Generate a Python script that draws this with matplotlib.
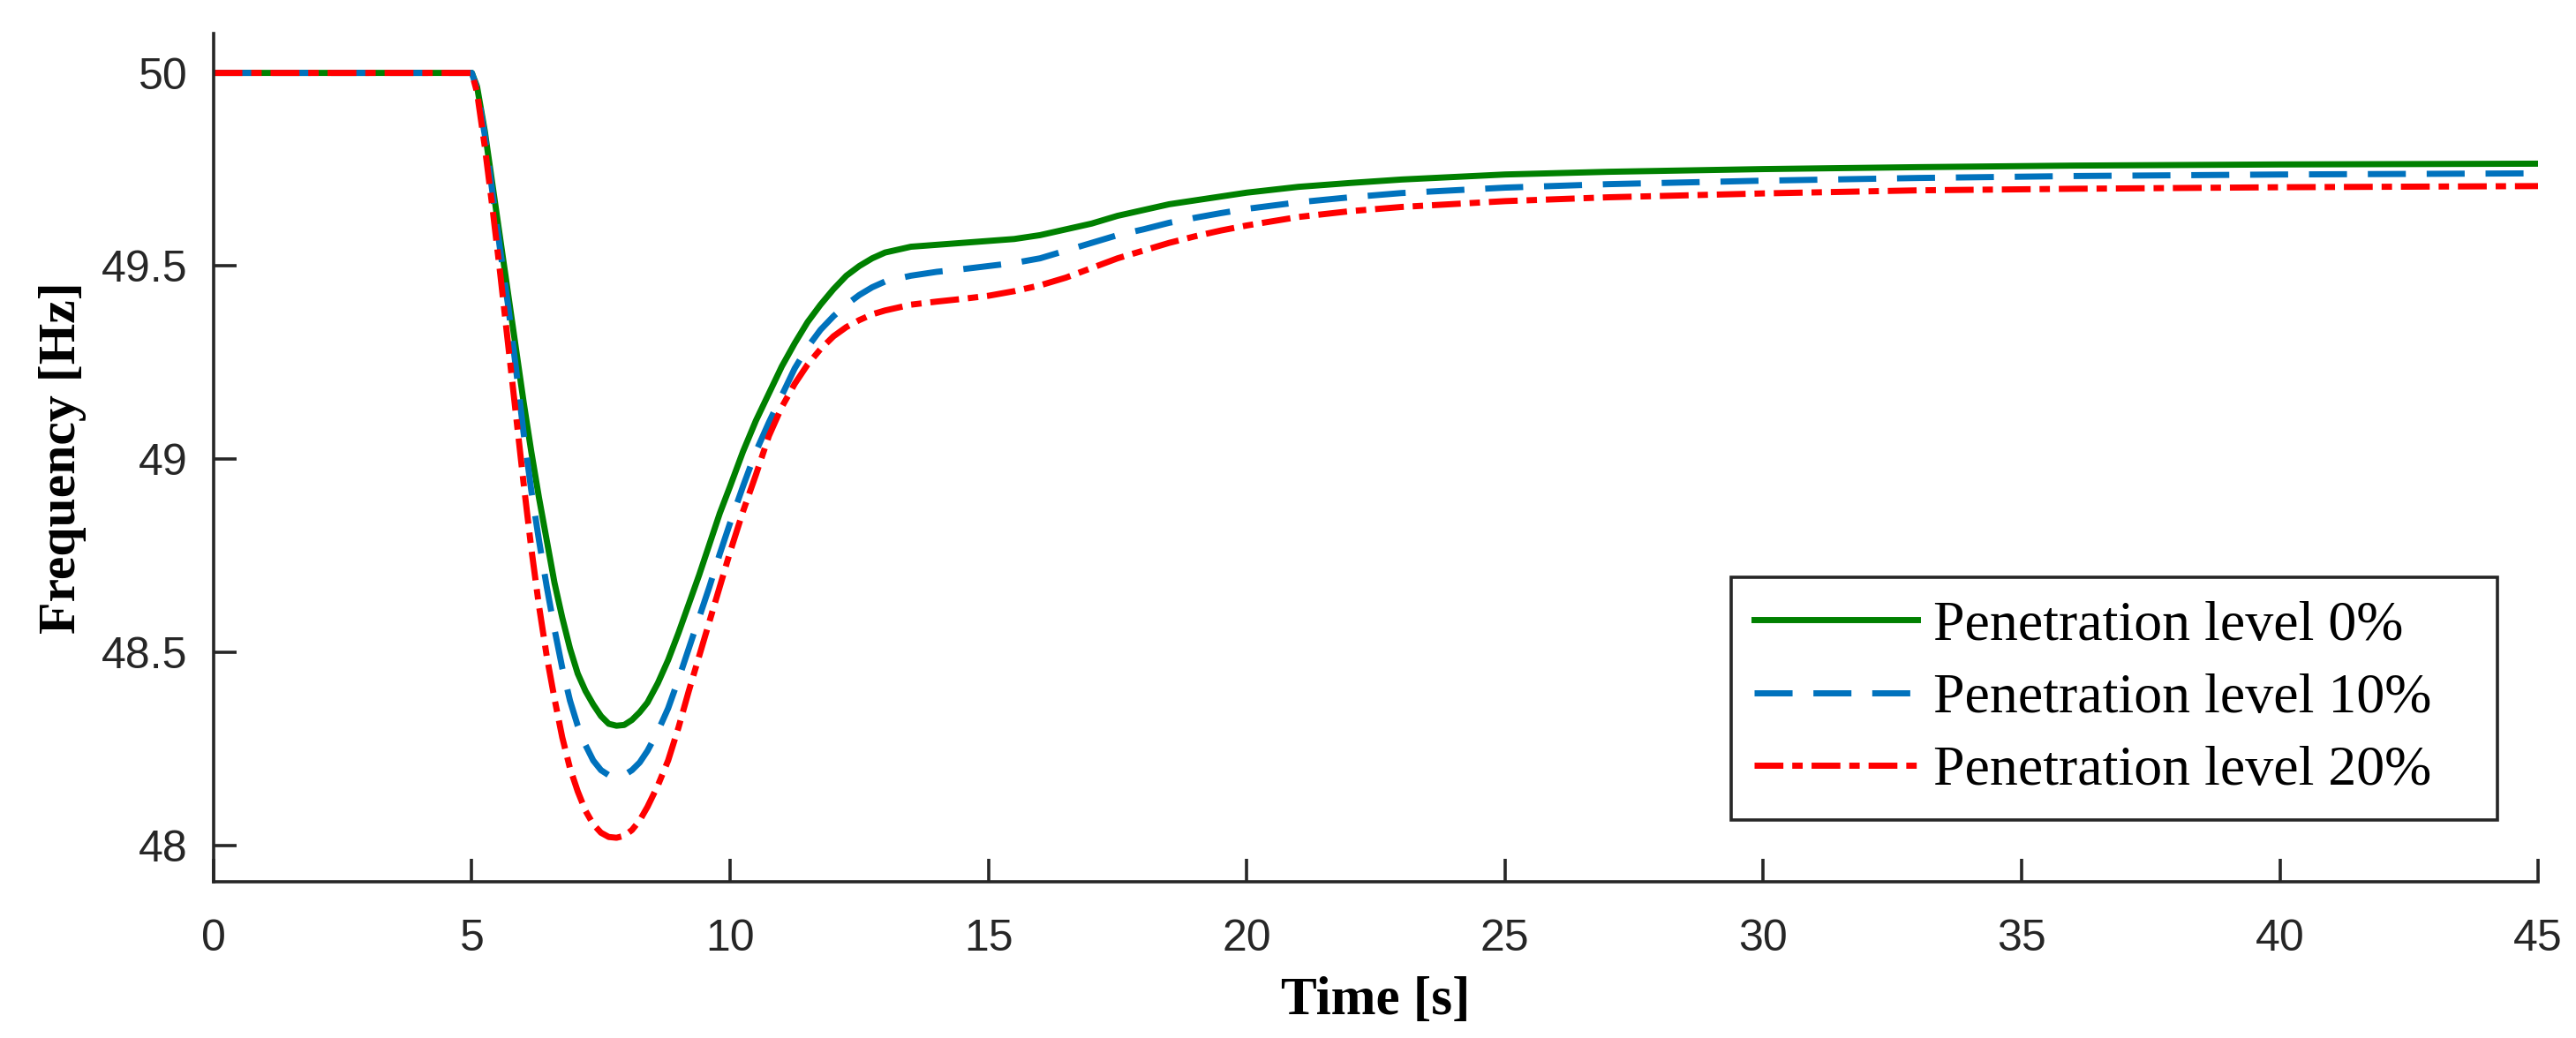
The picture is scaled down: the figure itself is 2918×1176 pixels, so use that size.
import numpy as np
import matplotlib
matplotlib.use("Agg")
import matplotlib.pyplot as plt

# time samples [s]
time = [0, 5, 5.1, 5.25, 5.4, 5.55, 5.7, 5.85, 6.0, 6.15, 6.3, 6.45, 6.6, 6.75,
        6.9, 7.05, 7.2, 7.35, 7.5, 7.65, 7.8, 7.95, 8.1, 8.25, 8.4, 8.6, 8.8,
        9.0, 9.2, 9.4, 9.6, 9.8, 10, 10.25, 10.5, 10.75, 11, 11.25, 11.5, 11.75,
        12, 12.25, 12.5, 12.75, 13, 13.5, 14, 14.5, 15, 15.5, 16, 16.5, 17,
        17.5, 18, 18.5, 19, 19.5, 20, 21, 22, 23, 25, 27, 30, 33, 36, 40, 45]

# frequency [Hz] per penetration level
f_0 = [50, 50, 49.965, 49.85, 49.71, 49.57, 49.43, 49.29, 49.15, 49.02, 48.90,
       48.79, 48.68, 48.59, 48.51, 48.445, 48.40, 48.365, 48.335, 48.315,
       48.31, 48.312, 48.325, 48.345, 48.37, 48.42, 48.48, 48.55, 48.625,
       48.70, 48.78, 48.86, 48.93, 49.02, 49.10, 49.17, 49.24, 49.30, 49.355,
       49.40, 49.44, 49.475, 49.50, 49.52, 49.535, 49.55, 49.555, 49.56,
       49.565, 49.57, 49.58, 49.595, 49.61, 49.63, 49.645, 49.66, 49.67,
       49.68, 49.69, 49.705, 49.715, 49.724, 49.737, 49.744, 49.751, 49.756,
       49.76, 49.763, 49.765]
f_10 = [50, 50, 49.96, 49.84, 49.69, 49.54, 49.40, 49.24, 49.07, 48.92, 48.79,
        48.67, 48.56, 48.46, 48.375, 48.31, 48.26, 48.22, 48.195, 48.182,
        48.178, 48.182, 48.195, 48.215, 48.245, 48.295, 48.355, 48.43, 48.51,
        48.59, 48.67, 48.755, 48.835, 48.93, 49.02, 49.095, 49.165, 49.235,
        49.29, 49.335, 49.37, 49.40, 49.425, 49.445, 49.46, 49.475, 49.485,
        49.492, 49.50, 49.508, 49.52, 49.54, 49.56, 49.58, 49.595, 49.612,
        49.625, 49.637, 49.648, 49.665, 49.678, 49.689, 49.703, 49.712, 49.721,
        49.728, 49.733, 49.737, 49.74]
f_20 = [50, 50, 49.95, 49.81, 49.65, 49.48, 49.30, 49.12, 48.94, 48.77, 48.62,
        48.49, 48.38, 48.28, 48.20, 48.14, 48.09, 48.055, 48.033, 48.022,
        48.02, 48.025, 48.04, 48.065, 48.10, 48.155, 48.22, 48.305, 48.40,
        48.49, 48.58, 48.67, 48.76, 48.865, 48.96, 49.06, 49.135, 49.195,
        49.245, 49.285, 49.318, 49.342, 49.36, 49.375, 49.385, 49.40, 49.408,
        49.415, 49.423, 49.435, 49.45, 49.47, 49.495, 49.52, 49.54, 49.56,
        49.577, 49.592, 49.605, 49.627, 49.642, 49.653, 49.668, 49.678,
        49.688, 49.696, 49.70, 49.704, 49.707]

labels = ["Penetration level 0%", "Penetration level 10%", "Penetration level 20%"]
xticks = [0, 5, 10, 15, 20, 25, 30, 35, 40, 45]
yticks = [48, 48.5, 49, 49.5, 50]

fig = plt.figure(figsize=(29.18, 11.76), dpi=100)
ax = fig.add_axes([0.0829, 0.1505, 0.9024, 0.8176])

lw = 5
ax.plot(time, f_0, color="#008000", lw=lw, label=labels[0])
ax.plot(time, f_10, color="#0072BD", lw=lw, dashes=(6.2, 3.4), label=labels[1])
ax.plot(time, f_20, color="#FF0000", lw=lw, dashes=(4.7, 1.45, 1.7, 1.45), label=labels[2])

ax.set_xlim(0, 45)
ax.set_ylim(47.906, 50.103)
ax.set_xticks(xticks)
ax.set_yticks(yticks)
ax.set_xticklabels([str(v) for v in xticks], family="Liberation Sans")
ax.set_yticklabels([f"{v:g}" for v in yticks], family="Liberation Sans")

for side in ["top", "right"]:
    ax.spines[side].set_visible(False)
for side in ["left", "bottom"]:
    ax.spines[side].set_linewidth(2.6)
    ax.spines[side].set_color("#262626")
ax.tick_params(direction="in", length=19, width=2.6, color="#262626",
               labelsize=36, labelcolor="#262626")
ax.tick_params(axis="x", pad=30)
ax.tick_params(axis="y", pad=21)

ax.set_xlabel("Time [s]", family="Liberation Serif", fontweight="bold",
              fontsize=44, labelpad=14)
ax.set_ylabel("Frequency [Hz]", family="Liberation Serif", fontweight="bold",
              fontsize=43, labelpad=12)

leg = ax.legend(loc="lower left", bbox_to_anchor=(0.653, 0.073, 0.3295, 0.285),
                mode="expand", borderaxespad=0,
                prop={"family": "Liberation Serif", "size": 46},
                handlelength=2.9, handletextpad=0.28, fancybox=False,
                edgecolor="#262626", framealpha=1, labelspacing=0.37,
                borderpad=0.4)
leg.get_frame().set_linewidth(2.6)

fig.savefig("out.png", dpi=100, facecolor="white")
